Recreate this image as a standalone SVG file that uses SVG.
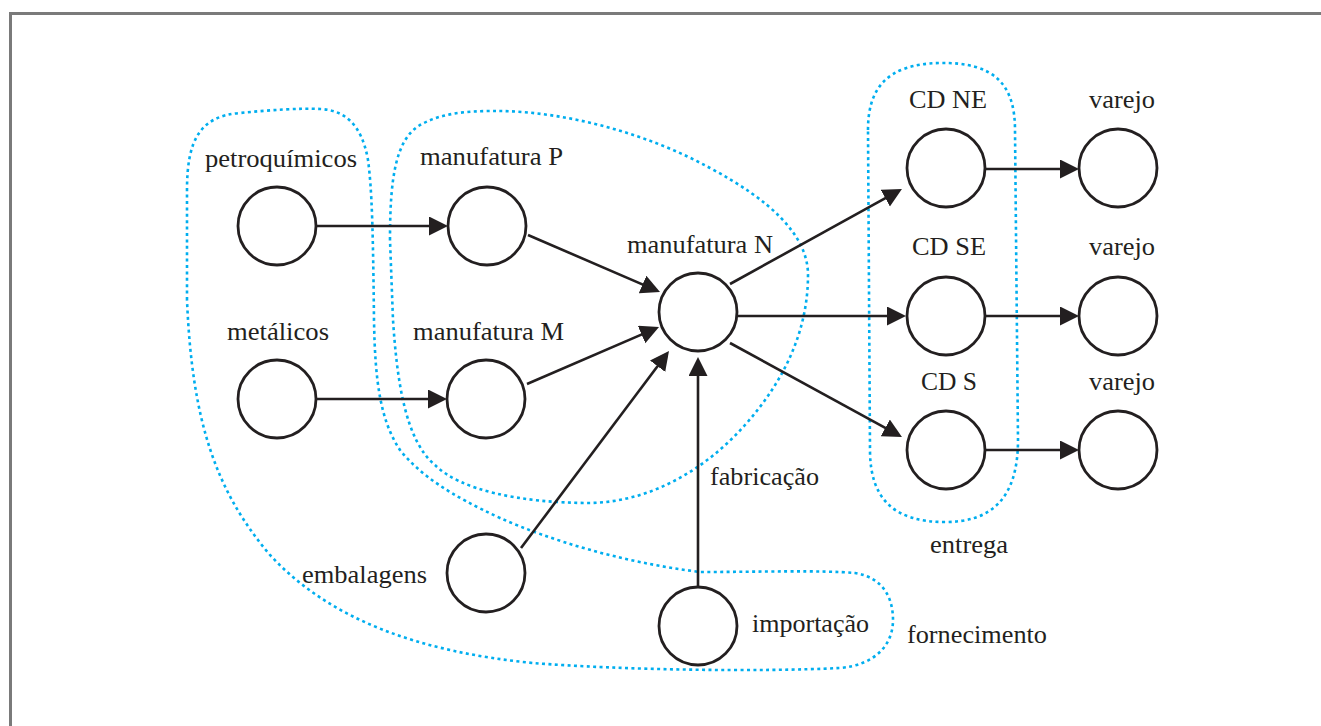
<svg xmlns="http://www.w3.org/2000/svg" width="1321" height="726" viewBox="0 0 1321 726">
<style>
.node{fill:#fff;stroke:#231f20;stroke-width:2.8}
.lbl{font-family:'Liberation Serif','Times New Roman',Times,serif;font-size:25.5px;fill:#231f20}
.edge{stroke:#231f20;stroke-width:2.6;fill:none}
.region{fill:none;stroke:#00aeef;stroke-width:2.6;stroke-dasharray:3 3.4}
</style>
<defs>
<marker id="ah" markerUnits="userSpaceOnUse" markerWidth="20" markerHeight="20" refX="13" refY="9.5" orient="auto">
<path d="M0,0 L19,9.5 L0,19 Z" fill="#231f20"/>
</marker>
</defs>
<rect x="0" y="0" width="1321" height="726" fill="#fff"/>
<rect x="10.5" y="13.5" width="1400" height="800" fill="none" stroke="#7a7a7a" stroke-width="3"/>

<g id="regions">
<path id="fornecimento-region" class="region" d="M187,300 L187,190 C187,140 200,116 240,113 C270,110 300,108 320,109 C345,110 362,125 368,160 C372,190 373,230 374,320 C375,380 380,420 400,450 C420,475 450,495 500,518 C550,540 620,562 700,572 C760,572 820,570 855,573 C885,578 893,600 893,620 C893,645 875,665 840,668 C760,672 620,670 533,663 C420,652 330,620 270,555 C215,490 192,420 187,300 Z"/>
<path id="fabricacao-region" class="region" d="M390,240 C390,180 395,140 420,125 C445,111 475,111 500,111 C570,112 650,135 710,168 C770,200 808,235 808,275 C808,330 785,380 745,425 C705,470 650,502 590,503 C520,503 460,490 435,465 C405,440 397,380 393,320 Z"/>
<path id="entrega-region" class="region" d="M868,130 C868,90 885,64 940,63 C995,62 1015,85 1015,130 L1018,440 C1018,500 990,522 945,522 C895,522 870,500 870,450 Z"/>
</g>

<g id="connectors">
<line class="edge" x1="317" y1="226" x2="442" y2="226" marker-end="url(#ah)"/>
<line class="edge" x1="317" y1="399" x2="441" y2="399" marker-end="url(#ah)"/>
<line class="edge" x1="528" y1="235" x2="654.5" y2="289.6" marker-end="url(#ah)"/>
<line class="edge" x1="527" y1="384" x2="653.5" y2="329.4" marker-end="url(#ah)"/>
<line class="edge" x1="521" y1="548" x2="665.4" y2="355.8" marker-end="url(#ah)"/>
<line class="edge" x1="698" y1="587" x2="698" y2="363" marker-end="url(#ah)"/>
<line class="edge" x1="730" y1="284" x2="896.7" y2="191.9" marker-end="url(#ah)"/>
<line class="edge" x1="737" y1="316" x2="900" y2="316" marker-end="url(#ah)"/>
<line class="edge" x1="730" y1="343" x2="896.7" y2="434.1" marker-end="url(#ah)"/>
<line class="edge" x1="986" y1="169" x2="1073" y2="169" marker-end="url(#ah)"/>
<line class="edge" x1="986" y1="316" x2="1073" y2="316" marker-end="url(#ah)"/>
<line class="edge" x1="986" y1="450" x2="1073" y2="450" marker-end="url(#ah)"/>
</g>

<g id="petroquimicos"><circle class="node" cx="277" cy="226" r="39"/><text class="lbl" x="205" y="167" textLength="152" lengthAdjust="spacingAndGlyphs">petroquímicos</text></g>
<g id="metalicos"><circle class="node" cx="277" cy="399" r="39"/><text class="lbl" x="227" y="340" textLength="102" lengthAdjust="spacingAndGlyphs">metálicos</text></g>
<g id="manufatura-p"><circle class="node" cx="487" cy="226" r="39"/><text class="lbl" x="420" y="165" textLength="143" lengthAdjust="spacingAndGlyphs">manufatura P</text></g>
<g id="manufatura-m"><circle class="node" cx="486" cy="399" r="39"/><text class="lbl" x="413" y="340" textLength="151" lengthAdjust="spacingAndGlyphs">manufatura M</text></g>
<g id="manufatura-n"><circle class="node" cx="698" cy="312" r="39"/><text class="lbl" x="627" y="253" textLength="146" lengthAdjust="spacingAndGlyphs">manufatura N</text></g>
<g id="embalagens"><circle class="node" cx="486" cy="573" r="39"/><text class="lbl" x="302" y="583" textLength="125" lengthAdjust="spacingAndGlyphs">embalagens</text></g>
<g id="importacao"><circle class="node" cx="698" cy="626" r="39"/><text class="lbl" x="752" y="632" textLength="117" lengthAdjust="spacingAndGlyphs">importação</text></g>
<g id="cd-ne"><circle class="node" cx="946" cy="168" r="39"/><text class="lbl" x="909" y="108" textLength="78" lengthAdjust="spacingAndGlyphs">CD NE</text></g>
<g id="cd-se"><circle class="node" cx="946" cy="316" r="39"/><text class="lbl" x="912" y="255" textLength="74" lengthAdjust="spacingAndGlyphs">CD SE</text></g>
<g id="cd-s"><circle class="node" cx="946" cy="450" r="39"/><text class="lbl" x="921" y="390" textLength="56" lengthAdjust="spacingAndGlyphs">CD S</text></g>
<g id="varejo-ne"><circle class="node" cx="1118" cy="168" r="39"/><text class="lbl" x="1089" y="108" textLength="66" lengthAdjust="spacingAndGlyphs">varejo</text></g>
<g id="varejo-se"><circle class="node" cx="1118" cy="316" r="39"/><text class="lbl" x="1089" y="255" textLength="66" lengthAdjust="spacingAndGlyphs">varejo</text></g>
<g id="varejo-s"><circle class="node" cx="1118" cy="450" r="39"/><text class="lbl" x="1089" y="390" textLength="66" lengthAdjust="spacingAndGlyphs">varejo</text></g>

<g id="region-labels">
<text class="lbl" x="710" y="485" textLength="109" lengthAdjust="spacingAndGlyphs">fabricação</text>
<text class="lbl" x="930" y="553" textLength="78" lengthAdjust="spacingAndGlyphs">entrega</text>
<text class="lbl" x="907" y="643" textLength="140" lengthAdjust="spacingAndGlyphs">fornecimento</text>
</g>
</svg>
